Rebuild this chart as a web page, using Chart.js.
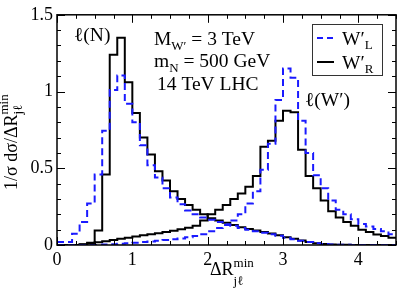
<!DOCTYPE html>
<html>
<head>
<meta charset="utf-8">
<script src="https://cdn.jsdelivr.net/npm/chart.js@4.4.1/dist/chart.umd.min.js"></script>
<style>
  html,body{margin:0;padding:0;background:#fff;}
  #wrap{width:399px;height:290px;}
</style>
</head>
<body>
<div id="wrap"><canvas id="c" width="399" height="290"></canvas></div>
<script>
// ---- DATA ----
// bin edges of the dR histograms (0.1 wide)
const binEdges = [0,0.1,0.2,0.3,0.4,0.5,0.6,0.7,0.8,0.9,1.0,1.1,1.2,1.3,1.4,1.5,1.6,1.7,1.8,1.9,
  2.0,2.1,2.2,2.3,2.4,2.5,2.6,2.7,2.8,2.9,3.0,3.1,3.2,3.3,3.4,3.5,3.6,3.7,3.8,3.9,
  4.0,4.1,4.2,4.3,4.4,4.5];

// W'_L (blue dashed), lepton from N
const wlLepN = [0.02,0.02,0.074,0.15,0.27,0.46,0.745,1.01,1.105,0.92,
  0.80,0.65,0.52,0.44,0.37,0.31,0.265,0.225,0.20,0.18,
  0.165,0.15,0.135,0.125,0.11,0.10,0.09,0.08,0.07,0.06,
  0.048,0.038,0.028,0.02,0.012,0.007,0.004,0.002,0.001,0,
  0,0,0,0,0];
// W'_L (blue dashed), lepton from W'
const wlLepW = [0,0,0,0,0,0,0.003,0.005,0.008,0.011,
  0.015,0.019,0.023,0.027,0.032,0.037,0.043,0.05,0.058,0.07,
  0.09,0.11,0.13,0.16,0.20,0.27,0.35,0.49,0.66,0.945,
  1.15,1.09,0.81,0.60,0.455,0.37,0.29,0.23,0.20,0.168,
  0.137,0.12,0.105,0.09,0.07];
// W'_R (black solid), lepton from N
const wrLepN = [0,0,0,0.005,0.015,0.095,0.46,1.24,1.35,1.06,
  0.86,0.70,0.59,0.48,0.42,0.35,0.30,0.26,0.23,0.20,
  0.175,0.16,0.145,0.13,0.115,0.105,0.095,0.085,0.075,0.063,
  0.05,0.04,0.03,0.02,0.012,0.006,0.003,0.002,0.001,0,
  0,0,0,0,0];
// W'_R (black solid), lepton from W'
const wrLepW = [0,0,0,0.003,0.01,0.018,0.025,0.033,0.041,0.048,
  0.056,0.063,0.07,0.077,0.085,0.093,0.102,0.112,0.125,0.16,
  0.20,0.23,0.26,0.30,0.335,0.38,0.45,0.64,0.68,0.81,
  0.875,0.865,0.62,0.45,0.37,0.29,0.22,0.18,0.15,0.125,
  0.10,0.085,0.068,0.058,0.048];

const xTicks = [0,1,2,3,4];
const yTicks = [0,0.5,1,1.5];
const yTickLabels = ['0','0.5','1','1.5'];

const BLUE = '#1a1aff';
const SERIF = '"Liberation Serif","DejaVu Serif",serif';

// histogram -> step points, value held from bin start to next edge
function toSteps(vals){
  const pts = vals.map((v,i)=>({x:binEdges[i], y:v}));
  pts.push({x:binEdges[binEdges.length-1], y:vals[vals.length-1]});
  return pts;
}

function ds(vals, color, dash){
  return {data:toSteps(vals), borderColor:color, borderWidth:2, borderDash:dash,
    stepped:'before', pointRadius:0, fill:false, tension:0};
}

// draw text runs, sub/superscripts
function drawRuns(ctx, x, y, runs){
  runs.forEach(r=>{
    ctx.font = r.s+'px '+SERIF;
    ctx.fillText(r.t, x, y+(r.dy||0));
    if(r.adv!==false) x += ctx.measureText(r.t).width;
  });
}

const decor = {
  id:'decor',
  afterDraw(chart){
    const ctx = chart.ctx, a = chart.chartArea;
    const xs = chart.scales.x, ys = chart.scales.y;
    ctx.save();
    // frame
    ctx.strokeStyle = '#000';
    ctx.lineWidth = 1.5;
    ctx.strokeRect(a.left, a.top, a.right-a.left, a.bottom-a.top);
    // ticks, inward on all sides
    ctx.lineWidth = 1;
    ctx.beginPath();
    for(let i=0;i<=18;i++){
      const v = i*0.25, px = Math.round(xs.getPixelForValue(v))+0.5;
      const len = (i%4===0) ? 8 : 4;
      ctx.moveTo(px, a.bottom); ctx.lineTo(px, a.bottom-len);
      ctx.moveTo(px, a.top); ctx.lineTo(px, a.top+len);
    }
    for(let i=0;i<=15;i++){
      const v = i*0.1, py = Math.round(ys.getPixelForValue(v))+0.5;
      const len = (i%5===0) ? 8 : 4;
      ctx.moveTo(a.left, py); ctx.lineTo(a.left+len, py);
      ctx.moveTo(a.right, py); ctx.lineTo(a.right-len, py);
    }
    ctx.stroke();

    ctx.fillStyle = '#000';
    ctx.textBaseline = 'alphabetic';
    ctx.textAlign = 'left';

    // x title
    drawRuns(ctx, 210, 275, [
      {t:'\u0394R', s:18},
      {t:'min', s:13, dy:-8, adv:false},
      {t:'j\u2113', s:13, dy:10}
    ]);
    // y title
    ctx.save();
    ctx.translate(17, 190);
    ctx.rotate(-Math.PI/2);
    drawRuns(ctx, 0, 0, [
      {t:'1/\u03c3 d\u03c3/\u0394R', s:18},
      {t:'min', s:13, dy:-9, adv:false},
      {t:'j\u2113', s:13, dy:5}
    ]);
    ctx.restore();

    // annotations
    drawRuns(ctx, 74, 41, [{t:'\u2113(N)', s:19.5}]);
    drawRuns(ctx, 154, 45, [{t:'M', s:19.5},{t:'W\u2032', s:13, dy:5},{t:' = 3 TeV', s:19.5}]);
    drawRuns(ctx, 154, 67, [{t:'m', s:19.5},{t:'N', s:13, dy:5},{t:' = 500 GeV', s:19.5}]);
    drawRuns(ctx, 157, 90, [{t:'14 TeV LHC', s:19.5}]);
    drawRuns(ctx, 305, 106, [{t:'\u2113(W\u2032)', s:19.5}]);

    // legend
    ctx.fillStyle = '#fff';
    ctx.fillRect(312.5, 24.5, 70, 51);
    ctx.strokeStyle = '#333';
    ctx.lineWidth = 1;
    ctx.strokeRect(312.5, 24.5, 70, 51);
    ctx.lineWidth = 2;
    ctx.strokeStyle = BLUE;
    ctx.setLineDash([6,4]);
    ctx.beginPath(); ctx.moveTo(317, 38); ctx.lineTo(334, 38); ctx.stroke();
    ctx.setLineDash([]);
    ctx.strokeStyle = '#000';
    ctx.beginPath(); ctx.moveTo(317, 62); ctx.lineTo(334, 62); ctx.stroke();
    ctx.fillStyle = '#000';
    drawRuns(ctx, 342, 45, [{t:'W\u2032', s:19.5},{t:'L', s:13, dy:4}]);
    drawRuns(ctx, 342, 69, [{t:'W\u2032', s:19.5},{t:'R', s:13, dy:4}]);
    ctx.restore();
  }
};

new Chart(document.getElementById('c'), {
  type:'line',
  data:{datasets:[
    ds(wlLepN, BLUE, [7,4]),
    ds(wlLepW, BLUE, [7,4]),
    ds(wrLepN, '#000', []),
    ds(wrLepW, '#000', [])
  ]},
  options:{
    responsive:false,
    devicePixelRatio:1,
    animation:false,
    layout:{padding:{top:7, right:3, left:0, bottom:0}},
    plugins:{legend:{display:false}, tooltip:{enabled:false}},
    scales:{
      x:{
        type:'linear', min:0, max:4.5,
        grid:{display:false, drawTicks:false}, border:{display:false},
        afterBuildTicks:s=>{ s.ticks = xTicks.map(v=>({value:v})); },
        afterFit:s=>{ s.height = 45; },
        ticks:{color:'#000', padding:4, font:{family:SERIF, size:18},
          callback:v=>String(v)}
      },
      y:{
        type:'linear', min:0, max:1.5,
        grid:{display:false, drawTicks:false}, border:{display:false},
        afterBuildTicks:s=>{ s.ticks = yTicks.map(v=>({value:v})); },
        afterFit:s=>{ s.width = 57; },
        ticks:{color:'#000', padding:4, font:{family:SERIF, size:18},
          callback:v=>yTickLabels[yTicks.indexOf(v)]}
      }
    }
  },
  plugins:[decor]
});
</script>
</body>
</html>
